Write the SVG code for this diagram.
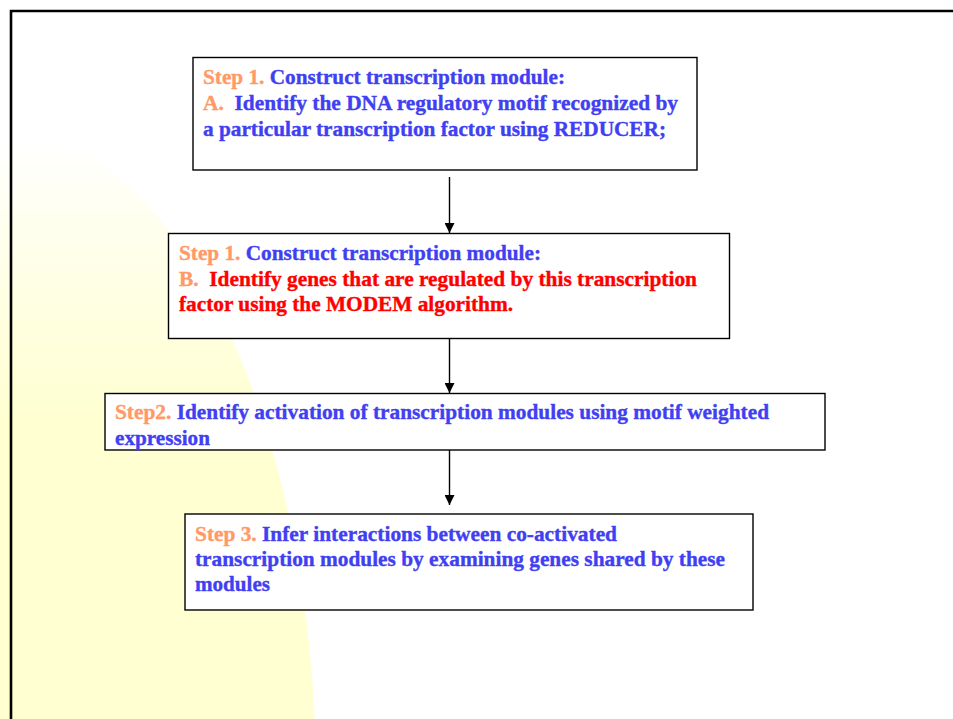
<svg xmlns="http://www.w3.org/2000/svg" width="953" height="719" viewBox="0 0 953 719">
  <defs>
    <linearGradient id="glow" x1="0" y1="140" x2="0" y2="420" gradientUnits="userSpaceOnUse">
      <stop offset="0" stop-color="#FFFFFF"/>
      <stop offset="0.4" stop-color="#FFFFEA"/>
      <stop offset="1" stop-color="#FFFFD2"/>
    </linearGradient>
    <marker id="arrow" viewBox="0 0 10 10" refX="10" refY="5" markerWidth="11" markerHeight="10" markerUnits="userSpaceOnUse" orient="auto">
      <path d="M0,0 L10,5 L0,10 Z" fill="#000"/>
    </marker>
    <style>
      .box { fill: #FFFFFF; stroke: #000; stroke-width: 1.4; }
      .t { font-family: "Liberation Serif", "Times New Roman", serif; font-weight: bold; font-size: 20px; fill: #4040F2; stroke: #4040F2; stroke-width: 0.35; white-space: pre; }
      .o { fill: #FF9966; stroke: #FF9966; }
      .r { fill: #FF0000; stroke: #FF0000; }
      .link { stroke: #000; stroke-width: 1.4; fill: none; marker-end: url(#arrow); }
    </style>
  </defs>

  <!-- page background with soft yellow glow on the left -->
  <rect x="0" y="0" width="953" height="719" fill="#FFFFFF"/>
  <ellipse cx="0" cy="780" rx="316" ry="650" fill="url(#glow)"/>

  <!-- slide frame -->
  <path d="M11,719 V11 H953" fill="none" stroke="#000" stroke-width="2.6"/>

  <g id="connectors">
    <line class="link" x1="449.5" y1="177" x2="449.5" y2="233"/>
    <line class="link" x1="449.5" y1="338" x2="449.5" y2="393"/>
    <line class="link" x1="449.5" y1="450" x2="449.5" y2="505"/>
  </g>

  <g id="step1a">
    <rect class="box" x="193" y="57.5" width="504" height="112.5"/>
    <text class="t" x="203" y="84" textLength="362" lengthAdjust="spacingAndGlyphs"><tspan class="o">Step 1.</tspan> Construct transcription module:</text>
    <text class="t" x="203" y="110" textLength="475" lengthAdjust="spacingAndGlyphs" xml:space="preserve"><tspan class="o">A.</tspan>  Identify the DNA regulatory motif recognized by</text>
    <text class="t" x="203" y="136" textLength="463" lengthAdjust="spacingAndGlyphs">a particular transcription factor using REDUCER;</text>
  </g>

  <g id="step1b">
    <rect class="box" x="168.5" y="233.5" width="561" height="105"/>
    <text class="t" x="179" y="260" textLength="362" lengthAdjust="spacingAndGlyphs"><tspan class="o">Step 1.</tspan> Construct transcription module:</text>
    <text class="t" x="179" y="286" textLength="518" lengthAdjust="spacingAndGlyphs" xml:space="preserve"><tspan class="o">B.</tspan><tspan class="r">  Identify genes that are regulated by this transcription</tspan></text>
    <text class="t r" x="179" y="311" textLength="334" lengthAdjust="spacingAndGlyphs">factor using the MODEM algorithm.</text>
  </g>

  <g id="step2">
    <rect class="box" x="105" y="393.5" width="720" height="56.5"/>
    <text class="t" x="115" y="419" textLength="654" lengthAdjust="spacingAndGlyphs"><tspan class="o">Step2.</tspan> Identify activation of transcription modules using motif weighted</text>
    <text class="t" x="115" y="445" textLength="95" lengthAdjust="spacingAndGlyphs">expression</text>
  </g>

  <g id="step3">
    <rect class="box" x="185" y="514" width="568" height="96"/>
    <text class="t" x="195" y="541" textLength="422" lengthAdjust="spacingAndGlyphs"><tspan class="o">Step 3.</tspan> Infer interactions between co-activated</text>
    <text class="t" x="195" y="566" textLength="530" lengthAdjust="spacingAndGlyphs">transcription modules by examining genes shared by these</text>
    <text class="t" x="195" y="591" textLength="75" lengthAdjust="spacingAndGlyphs">modules</text>
  </g>
</svg>
